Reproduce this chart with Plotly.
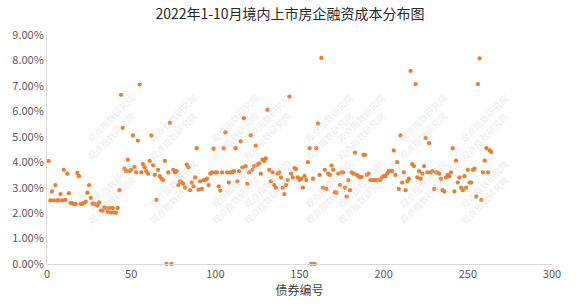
import plotly.graph_objects as go

title_text = "2022年1-10月境内上市房企融资成本分布图"
x_title = "债券编号"
watermark = "观点指数研究院"

# financing cost (%) for bonds numbered 1..N
cost_pct = [
    4.05, 2.50, 2.85, 2.50, 3.10, 2.50, 2.50, 2.75, 2.50, 3.70,
    2.52, 3.55, 2.78, 2.40, 2.38, 2.36, 2.36, 3.58, 3.45, 2.36,
    2.36, 2.40, 2.45, 2.80, 3.10, 2.60, 2.38, 2.36, 2.34, 2.30,
    2.42, 2.10, 2.10, 2.22, 2.20, 2.05, 2.20, 2.02, 2.20, 2.02,
    2.02, 2.20, 2.90, 6.65, 5.35, 3.75, 3.65, 4.10, 3.65, 3.70,
    5.05, 3.82, 3.60, 4.85, 7.05, 3.60, 3.92, 3.80, 3.65, 3.55,
    4.05, 5.05, 3.88, 3.50, 2.52, 3.70, 3.45, 3.35, 3.30, 4.05,
    0.00, 3.60, 5.55, 0.00, 3.70, 3.60, 3.65, 3.10, 3.25, 3.20,
    3.15, 3.00, 3.90, 3.80, 2.90, 3.20, 3.05, 3.40, 4.55, 2.92,
    3.25, 2.95, 3.30, 3.30, 3.35, 3.10, 3.55, 3.60, 4.53, 3.60,
    3.60, 3.05, 2.88, 3.60, 4.55, 5.17, 3.60, 3.20, 3.60, 3.60,
    3.65, 4.55, 3.25, 3.65, 4.82, 3.80, 5.73, 3.85, 3.15, 3.60,
    5.05, 3.70, 3.85, 4.65, 3.90, 3.95, 3.55, 4.10, 4.05, 4.15,
    6.06, 3.70, 3.25, 3.60, 3.10, 3.00, 3.55, 3.60, 3.40, 3.00,
    2.75, 3.10, 3.30, 6.58, 3.55, 3.40, 3.77, 3.73, 3.40, 3.30,
    3.35, 3.00, 3.45, 3.30, 4.00, 4.55, 0.00, 3.35, 0.00, 4.55,
    5.52, 3.50, 8.10, 3.00, 3.70, 2.95, 3.55, 3.50, 3.87, 3.70,
    2.82, 2.80, 3.55, 3.10, 3.60, 3.60, 3.00, 2.65, 3.30, 2.90,
    3.60, 3.55, 4.38, 3.50, 3.45, 3.40, 3.42, 4.29, 4.29, 3.50,
    3.55, 3.30, 3.30, 3.30, 3.30, 3.30, 3.30, 3.30, 3.40, 3.45,
    3.45, 3.55, 3.65, 3.65, 3.65, 4.46, 3.50, 4.00, 2.95, 5.05,
    3.20, 3.60, 2.90, 3.25, 3.35, 7.59, 3.92, 3.85, 7.07, 3.40,
    3.65, 3.35, 3.55, 3.85, 4.95, 3.60, 4.75, 3.60, 3.65, 2.95,
    3.60, 3.60, 3.55, 3.35, 2.90, 2.85, 3.40, 3.50, 3.45, 3.60,
    4.55, 2.85, 4.06, 3.20, 3.40, 3.00, 2.90, 3.45, 3.00, 3.70,
    3.20, 3.20, 3.70, 3.75, 2.65, 7.07, 8.08, 2.52, 3.60, 4.06,
    4.55, 3.60, 4.46, 4.40,
]
bond_no = list(range(1, len(cost_pct) + 1))
y_vals = [v / 100 for v in cost_pct]

y_tickvals = [i / 100 for i in range(0, 10)]
y_ticktext = [f"{i}.00%" for i in range(0, 10)]
x_tickvals = [0, 50, 100, 150, 200, 250, 300]

fig = go.Figure()
fig.add_trace(go.Scatter(
    x=bond_no, y=y_vals, mode="markers",
    marker=dict(color="#ED7D31", size=4.3, line=dict(width=0)),
    cliponaxis=False, hoverinfo="x+y",
))

font_family = "Noto Sans CJK SC, Noto Sans, sans-serif"

# faint watermark grid
wm_x = [40, 111, 182, 253, 324, 395, 466, 537]
wm_y = [73, 137, 201, 262]
annotations = []
for wy in wm_y:
    for wx in wm_x:
        annotations.append(dict(
            text=watermark, x=wx / 580, y=1 - wy / 308, xref="paper", yref="paper",
            showarrow=False, textangle=-45,
            font=dict(family=font_family, size=9, color="rgba(210,210,210,0.45)"),
        ))

fig.update_layout(
    width=580, height=308,
    margin=dict(l=44, r=28, t=35, b=44),
    paper_bgcolor="white", plot_bgcolor="white",
    showlegend=False,
    title=dict(text=title_text, x=0.5, xanchor="center", y=1 - 14 / 308, yanchor="middle",
               font=dict(family=font_family, size=14, color="#262626")),
    font=dict(family=font_family, color="#595959"),
    annotations=annotations,
)
fig.update_xaxes(
    range=[0, 300], tickvals=x_tickvals, showgrid=False, zeroline=False,
    showline=True, linecolor="#D9D9D9", linewidth=1, ticks="",
    tickfont=dict(size=11, color="#595959"),
    title=dict(text=x_title, font=dict(size=12, color="#404040"), standoff=6),
)
fig.update_yaxes(
    range=[0, 0.09], tickvals=y_tickvals, ticktext=y_ticktext, showgrid=False,
    zeroline=False, showline=True, linecolor="#D9D9D9", linewidth=1, ticks="",
    tickfont=dict(size=11, color="#595959"),
)

fig.write_html("out.html")
